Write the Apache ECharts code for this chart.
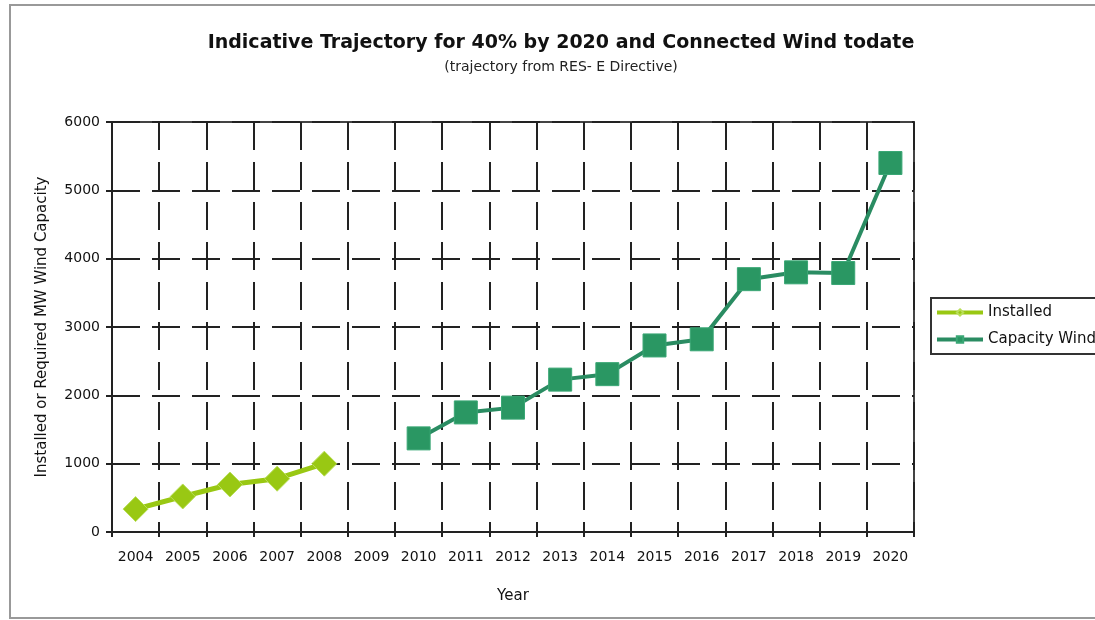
<!DOCTYPE html>
<html>
<head>
<meta charset="utf-8">
<script src="https://cdn.jsdelivr.net/npm/echarts@6/dist/echarts.min.js"></script>
<style>
  html, body { margin: 0; padding: 0; background: #fff; }
  #chart { width: 1095px; height: 620px; }
</style>
</head>
<body>
<div id="chart"></div>
<script>
const years = ['2004','2005','2006','2007','2008','2009','2010','2011','2012','2013','2014','2015','2016','2017','2018','2019','2020'];
const installed = [335, 520, 695, 780, 1000, null, null, null, null, null, null, null, null, null, null, null, null];
const capacityWind = [null, null, null, null, null, null, 1370, 1750, 1820, 2230, 2310, 2730, 2820, 3700, 3800, 3790, 5400];
const yTicks = { min: 0, max: 6000, interval: 1000 };

const FONT = 'DejaVu Sans';
const chart = echarts.init(document.getElementById('chart'), null, { renderer: 'canvas' });
const gridDash = { color: '#222', width: 2, type: [28, 12] };

chart.setOption({
  animation: false,
  backgroundColor: '#fff',
  textStyle: { fontFamily: FONT },
  title: [
    { text: 'Indicative Trajectory for 40% by 2020 and Connected Wind todate', left: 556, top: 29, textAlign: 'center',
      textStyle: { fontFamily: FONT, fontSize: 19, fontWeight: 'bold', color: '#111' } },
    { text: '(trajectory from RES- E Directive)', left: 556, top: 55, textAlign: 'center',
      textStyle: { fontFamily: FONT, fontSize: 14, fontWeight: 'normal', color: '#222' } }
  ],
  graphic: [
    { type: 'rect', shape: { x: 10, y: 5, width: 1100, height: 613 }, style: { fill: 'none', stroke: '#999', lineWidth: 2 }, silent: true, z: -1 }
  ],
  legend: {
    orient: 'vertical', left: 931, top: 298,
    borderColor: '#333', borderWidth: 2, backgroundColor: '#fff',
    padding: [7, 8, 7, 4], itemGap: 12, itemWidth: 46, itemHeight: 8,
    lineStyle: { width: 4 },
    textStyle: { fontFamily: FONT, fontSize: 15, color: '#111' },
    data: ['Installed', 'Capacity Wind']
  },
  grid: { left: 112, right: 181, top: 122, bottom: 88, show: true, borderColor: '#444', borderWidth: 2, backgroundColor: 'transparent' },
  xAxis: {
    type: 'category', data: years, boundaryGap: true,
    name: 'Year', nameLocation: 'middle', nameGap: 57,
    nameTextStyle: { fontFamily: FONT, fontSize: 15, color: '#111' },
    axisLine: { lineStyle: { color: '#222', width: 2 } },
    axisTick: { show: true, inside: false, length: 5, interval: 0, lineStyle: { color: '#222', width: 2 } },
    axisLabel: { fontFamily: FONT, fontSize: 14, color: '#111', margin: 18, interval: 0 },
    splitLine: { show: true, interval: 0, lineStyle: gridDash }
  },
  yAxis: {
    type: 'value', min: yTicks.min, max: yTicks.max, interval: yTicks.interval,
    name: 'Installed or Required MW Wind Capacity', nameLocation: 'middle', nameGap: 62, nameRotate: 90,
    nameTextStyle: { fontFamily: FONT, fontSize: 15, color: '#111' },
    axisLine: { show: true, lineStyle: { color: '#222', width: 2 } },
    axisTick: { show: true, inside: false, length: 6, lineStyle: { color: '#222', width: 2 } },
    axisLabel: { fontFamily: FONT, fontSize: 14, color: '#111', margin: 12, formatter: function (v) { return String(v); } },
    splitLine: { show: true, lineStyle: gridDash }
  },
  series: [
    {
      name: 'Installed', type: 'line', data: installed, connectNulls: false,
      symbol: 'diamond', symbolSize: 25,
      itemStyle: { color: '#99c813', borderColor: '#b9de5a', borderWidth: 1 },
      lineStyle: { color: '#99c813', width: 5 },
      z: 5
    },
    {
      name: 'Capacity Wind', type: 'line', data: capacityWind, connectNulls: false,
      symbol: 'rect', symbolSize: 23,
      itemStyle: { color: '#2a9763', borderColor: '#3aa775', borderWidth: 1 },
      lineStyle: { color: '#2a8c62', width: 4 },
      z: 5
    }
  ]
});
</script>
</body>
</html>
